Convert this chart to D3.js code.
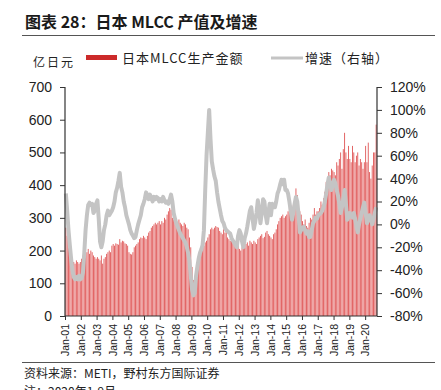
<!DOCTYPE html>
<html>
<head>
<meta charset="utf-8">
<script src="https://cdn.jsdelivr.net/npm/d3@7"></script>
<style>
  body { margin: 0; background: #fff; }
  svg { display: block; }
</style>
</head>
<body>
<div id="chart"></div>
<script>
// monthly MLCC production value in Japan (100m yen), Jan-2001 .. Sep-2020
var tickLabels = ["Jan-01","Jan-02","Jan-03","Jan-04","Jan-05","Jan-06","Jan-07","Jan-08","Jan-09","Jan-10",
  "Jan-11","Jan-12","Jan-13","Jan-14","Jan-15","Jan-16","Jan-17","Jan-18","Jan-19","Jan-20"];

var production = [
  270, 245, 215, 190, 180, 175, 165, 160, 170, 165, 160, 165,   // 2001
  175, 185, 190, 185, 195, 205, 190, 200, 195, 185, 180, 175,   // 2002
  180, 175, 170, 185, 160, 175, 180, 190, 195, 200, 195, 215,   // 2003
  220, 215, 222, 220, 218, 235, 225, 230, 228, 222, 220, 215,   // 2004
  195, 190, 188, 195, 210, 215, 220, 225, 235, 240, 238, 245,   // 2005
  240, 235, 245, 255, 260, 270, 275, 280, 285, 280, 285, 290,   // 2006
  280, 290, 285, 300, 295, 310, 320, 330, 325, 300, 295, 290,   // 2007
  290, 280, 295, 285, 280, 275, 285, 280, 270, 265, 240, 210,   // 2008
  150, 110, 120, 140, 160, 175, 190, 200, 210, 215, 225, 230,   // 2009
  240, 250, 265, 270, 265, 270, 275, 272, 270, 260, 255, 250,   // 2010
  265, 255, 262, 240, 235, 230, 238, 230, 220, 222, 215, 225,   // 2011
  205, 200, 210, 215, 208, 220, 225, 215, 230, 225, 220, 230,   // 2012
  225, 220, 235, 240, 245, 250, 238, 242, 255, 260, 250, 245,   // 2013
  240, 235, 250, 255, 265, 280, 290, 300, 305, 310, 300, 305,   // 2014
  310, 320, 340, 330, 320, 340, 360, 390, 370, 340, 320, 310,   // 2015
  290, 280, 295, 275, 270, 285, 300, 295, 310, 330, 310, 320,   // 2016
  320, 330, 350, 340, 360, 380, 410, 420, 440, 430, 450, 445,   // 2017
  440, 430, 470, 460, 480, 500, 450, 510, 560, 500, 480, 520,   // 2018
  480, 470, 520, 500, 470, 490, 500, 460, 480, 470, 450, 470,   // 2019
  520, 470, 530, 440, 420, 460, 500, 500, 585                   // 2020 Jan-Sep
];

// year-on-year growth, %
var growth = [
  27, 12, -5, -18, -30, -40, -46, -48, -46, -48, -45, -48,
  -47, -42, -25, -5, 8, 17, 19, 17, 18, 10, 12, 18,
  21, 5, -15, -20, -15, -5, 0, 8, 12, 8, 10, 12,
  15, 20, 28, 32, 38, 45, 33, 28, 20, 15, 8, 4,
  0, -5, -8, -10, -12, -11, -5, 0, 4, 8, 15, 18,
  22, 28, 25, 22, 26, 23, 20, 24, 22, 24, 23, 20,
  22, 20, 24, 21, 19, 20, 18, 22, 26, 20, 10, 5,
  1, -2, -5, -8, -10, -12, -14, -16, -20, -25, -32, -45,
  -57, -62, -60, -45, -37, -30, -25, -22, -18, -5, 30, 60,
  80, 100, 75, 55, 48, 42, 38, 28, 20, 14, 8, 3,
  1, -3, -5, -6, -7, -8, -12, -14, -16, -18, -20, -10,
  -5, -8, -15, -20, -12, -8, -2, 5, 12, 15, 5, -4,
  2, 10, 21, 12, 1, 10, 22, 20, 8, 1, 10, 18,
  8, 18, 15, 15, 20, 27, 30, 35, 39, 35, 39, 30,
  30, 27, 20, 12, 4, 10, 18, 24, 20, 8, -7, -5,
  -3, -2, -5, -8, -6, -11, -11, -5, 1, 3, 6, 5,
  8, 9, 10, 12, 15, 20, 27, 35, 41, 35, 30, 35,
  39, 36, 30, 25, 18, 10, 15, 22, 30, 18, 4, 6,
  10, 8, 6, 10, 5, -2, -7, 0, 5, 10, 15, 19,
  10, 1, 4, 8, 5, 0, 5, 10, 15
];

var leftTicks = [0, 100, 200, 300, 400, 500, 600, 700];
var rightTicks = [-80, -60, -40, -20, 0, 20, 40, 60, 80, 100, 120];

var w = 441, h = 390;
var pLeft = 65, pRight = 377, pTop = 87, pBottom = 316;
var cjk = "'Noto Sans CJK SC', sans-serif";
var latin = "'Liberation Sans', Arial, sans-serif";

var svg = d3.select("#chart").append("svg").attr("width", w).attr("height", h);

// title + rules
svg.append("text").attr("x", 25).attr("y", 28)
  .attr("font-family", cjk).attr("font-weight", "bold").attr("font-size", "16px").attr("fill", "#1a1a1a")
  .text("图表 28：日本 MLCC 产值及增速");
svg.append("line").attr("x1", 22).attr("x2", 435).attr("y1", 35.5).attr("y2", 35.5)
  .attr("stroke", "#555").attr("stroke-width", 1);
svg.append("line").attr("x1", 22).attr("x2", 435).attr("y1", 362.5).attr("y2", 362.5)
  .attr("stroke", "#555").attr("stroke-width", 1);

// legend
svg.append("text").attr("x", 33).attr("y", 67)
  .attr("font-family", cjk).attr("font-size", "12px").attr("letter-spacing", "2px").attr("fill", "#222").text("亿日元");
svg.append("rect").attr("x", 86).attr("y", 55).attr("width", 31).attr("height", 5).attr("fill", "#cc2a2a");
svg.append("text").attr("x", 122).attr("y", 63)
  .attr("font-family", cjk).attr("font-size", "13px").attr("letter-spacing", "1px").attr("fill", "#222").text("日本MLCC生产金额");
svg.append("line").attr("x1", 271).attr("x2", 303).attr("y1", 58).attr("y2", 58)
  .attr("stroke", "#c4c4c4").attr("stroke-width", 3);
svg.append("text").attr("x", 305).attr("y", 63)
  .attr("font-family", cjk).attr("font-size", "13px").attr("letter-spacing", "1px").attr("fill", "#222").text("增速（右轴）");

// scales
var n = production.length;
var x = d3.scaleBand().domain(d3.range(n)).range([pLeft, pRight]).padding(0.3);
var xt = d3.scaleLinear().domain([0, n]).range([pLeft, pRight]);
var y = d3.scaleLinear().domain([0, 700]).range([pBottom, pTop]);
var y2 = d3.scaleLinear().domain([-80, 120]).range([pBottom, pTop]);

// bars
svg.append("g").selectAll("rect")
  .data(production)
  .enter()
  .append("rect")
  .attr("x", function (d, i) { return x(i); })
  .attr("width", x.bandwidth())
  .attr("y", function (d) { return y(d); })
  .attr("height", function (d) { return pBottom - y(d); })
  .attr("fill", "#e05a5a");

// growth line
var line = d3.line()
  .x(function (d, i) { return x(i) + x.bandwidth() / 2; })
  .y(function (d) { return y2(d); });
svg.append("path").datum(growth)
  .attr("d", line)
  .attr("fill", "none")
  .attr("stroke", "#c4c4c4")
  .attr("stroke-width", 4)
  .attr("stroke-linejoin", "round");

// axes
var gl = svg.append("g").attr("transform", "translate(" + pLeft + ",0)")
  .call(d3.axisLeft(y).tickValues(leftTicks).tickSize(5).tickPadding(8));
var gr = svg.append("g").attr("transform", "translate(" + pRight + ",0)")
  .call(d3.axisRight(y2).tickValues(rightTicks).tickSize(5).tickPadding(8)
    .tickFormat(function (d) { return d + "%"; }));
var gb = svg.append("g").attr("transform", "translate(0," + pBottom + ")")
  .call(d3.axisBottom(xt).tickValues(d3.range(0, n, 12)).tickSize(4).tickPadding(4)
    .tickFormat(function (d, i) { return tickLabels[i]; }));

gb.selectAll("text")
  .attr("transform", "rotate(-90)")
  .attr("text-anchor", "end")
  .attr("x", -8).attr("y", 0)
  .attr("dy", "0.35em")
  .attr("font-size", "10.5px");

[gl, gr, gb].forEach(function (g) {
  g.selectAll(".domain").attr("stroke", "#333").attr("stroke-width", 1.2);
  g.selectAll(".tick line").attr("stroke", "#333");
  g.selectAll("text").attr("font-family", latin).attr("fill", "#222");
});
gl.selectAll("text").attr("font-size", "14px");
gr.selectAll("text").attr("font-size", "14px");
gl.select(".domain").attr("d", "M0," + pTop + "V" + pBottom);
gr.select(".domain").attr("d", "M0," + pTop + "V" + pBottom);
gb.select(".domain").attr("d", "M" + pLeft + ",0H" + pRight);

// source + note
svg.append("text").attr("x", 24).attr("y", 378)
  .attr("font-family", cjk).attr("font-size", "12px").attr("fill", "#222")
  .text("资料来源：METI，野村东方国际证券");
svg.append("text").attr("x", 24).attr("y", 396)
  .attr("font-family", cjk).attr("font-size", "12px").attr("fill", "#222")
  .text("注：2020年1-9月");
</script>
</body>
</html>
